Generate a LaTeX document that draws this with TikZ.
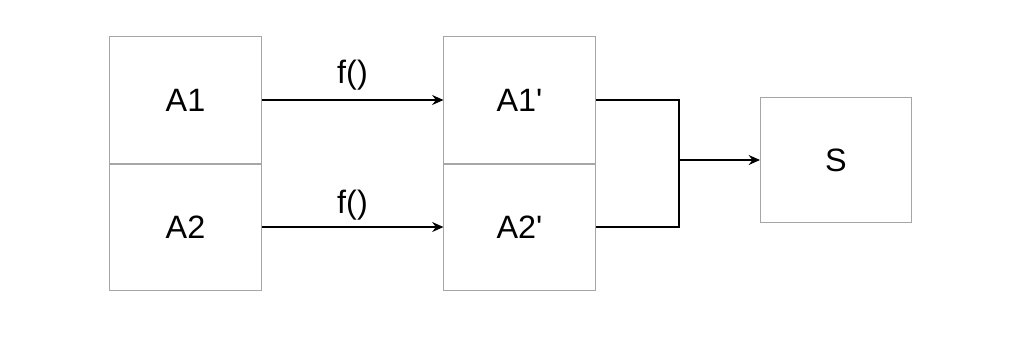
\documentclass[tikz,border=0pt]{standalone}
\usepackage{fontspec}
\setmainfont{Liberation Sans}
\usetikzlibrary{positioning, arrows.meta}

\tikzset{
    block/.style={draw=gray!70, line width=0.7pt, minimum width=3.775cm, minimum height=3.15cm, inner sep=0pt, font=\fontsize{23}{26}\selectfont},
    link/.style={line width=1.4pt, -{Stealth[length=8pt, width=7pt]}},
    wire/.style={line width=1.4pt}
}

\begin{document}
\begin{tikzpicture}[x=0.025cm, y=-0.025cm]
        \useasboundingbox (0, 0) rectangle (1024, 337);

        \node[block] (a1) at (185.5, 100) {A1};
        \node[block, below=0pt of a1] (a2) {A2};
        \node[block] (a1p) at (519.5, 100) {A1\textquotesingle};
        \node[block, below=0pt of a1p] (a2p) {A2\textquotesingle};
        \node[block, minimum height=3.125cm] (s) at (836, 160) {S};

        \draw[link] (a1) -- node[midway, above=3pt, font=\fontsize{23}{26}\selectfont] {f()} (a1p);
        \draw[link] (a2) -- node[midway, above=1pt, font=\fontsize{23}{26}\selectfont] {f()} (a2p);

        \coordinate (join) at (679, 160);
        \draw[wire] (a1p.east) -| (join);
        \draw[wire] (a2p.east) -| (join);
        \draw[link] (join) -- (s.west);
    \end{tikzpicture}
\end{document}
